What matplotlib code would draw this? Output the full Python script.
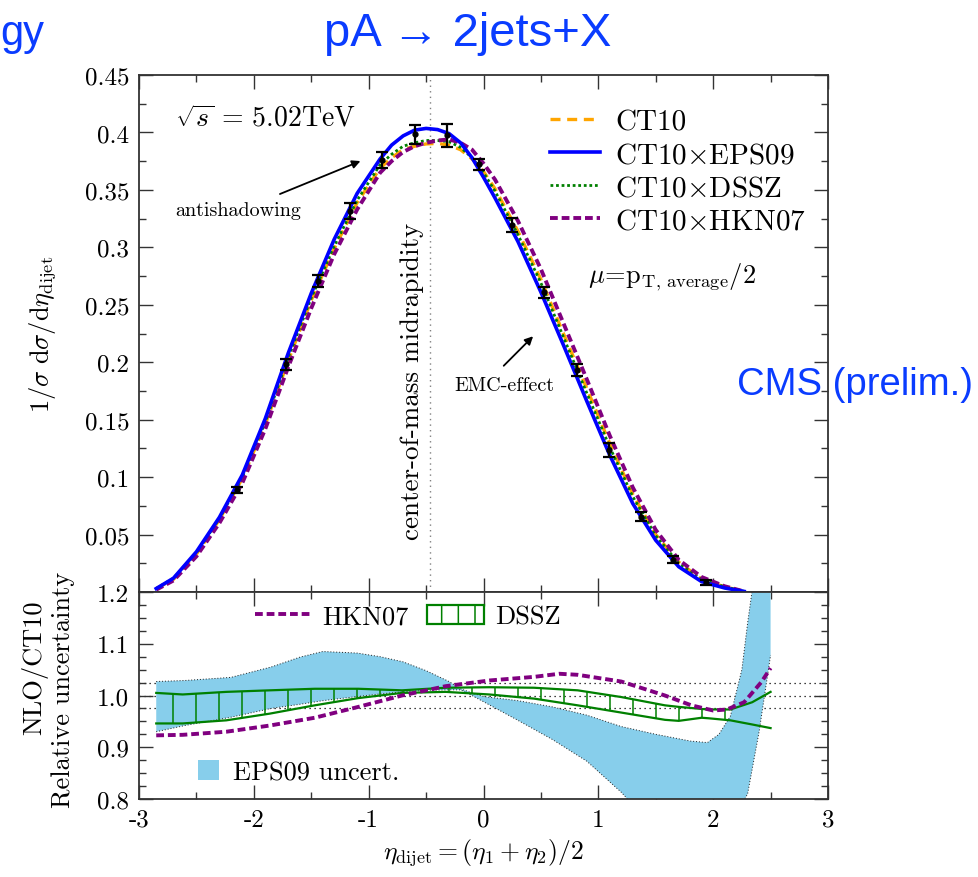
"""Normalised dijet rapidity distribution in pA with nuclear PDF ratios."""

import matplotlib

matplotlib.use("Agg")

import matplotlib.pyplot as plt
import numpy as np
from matplotlib.lines import Line2D
from matplotlib.patches import Patch
from matplotlib.ticker import FuncFormatter, MultipleLocator

# ---- upper panel: 1/sigma dsigma/deta curves ----
eta = [-2.85, -2.7, -2.5, -2.3, -2.1, -1.9, -1.7, -1.5, -1.3, -1.1, -0.9, -0.8, -0.7,
       -0.6, -0.5, -0.4, -0.3, -0.2, -0.1, 0.0, 0.1, 0.3, 0.5, 0.7, 0.9, 1.1, 1.3, 1.5,
       1.7, 1.9, 2.1, 2.27]
ct10 = [0.003, 0.011, 0.033, 0.063, 0.099, 0.146, 0.2015, 0.254, 0.299, 0.339, 0.369,
        0.378, 0.385, 0.388, 0.390, 0.3905, 0.389, 0.385, 0.377, 0.366, 0.351, 0.314,
        0.272, 0.224, 0.177, 0.129, 0.085, 0.050, 0.026, 0.011, 0.0045, 0.0005]
ct10_eps09 = [0.003, 0.012, 0.035, 0.065, 0.102, 0.151, 0.208, 0.260, 0.307, 0.347,
              0.377, 0.389, 0.397, 0.402, 0.4035, 0.4025, 0.399, 0.391, 0.378, 0.361,
              0.343, 0.305, 0.261, 0.214, 0.166, 0.119, 0.077, 0.045, 0.022, 0.009,
              0.0035, 0.0005]
ct10_dssz = [0.003, 0.012, 0.034, 0.064, 0.100, 0.148, 0.204, 0.256, 0.301, 0.341,
             0.372, 0.381, 0.388, 0.391, 0.393, 0.393, 0.392, 0.387, 0.378, 0.365,
             0.349, 0.311, 0.269, 0.221, 0.173, 0.126, 0.083, 0.049, 0.025, 0.011,
             0.0045, 0.0005]
ct10_hkn07 = [0.002, 0.010, 0.031, 0.060, 0.095, 0.142, 0.196, 0.247, 0.294, 0.333,
              0.365, 0.375, 0.383, 0.388, 0.391, 0.393, 0.394, 0.391, 0.385, 0.373,
              0.359, 0.323, 0.281, 0.233, 0.185, 0.136, 0.091, 0.054, 0.028, 0.013,
              0.005, 0.0005]

# CMS preliminary points
cms_eta = [-2.15, -1.72, -1.44, -1.165, -0.88, -0.60, -0.315, -0.04, 0.246, 0.527,
           0.812, 1.097, 1.375, 1.654, 1.939]
cms_val = [0.0888, 0.1982, 0.2707, 0.3316, 0.3760, 0.3983, 0.3977, 0.3722, 0.3194,
           0.2608, 0.1932, 0.1236, 0.0655, 0.0279, 0.0084]
cms_err = [0.003, 0.0047, 0.005, 0.0068, 0.007, 0.0086, 0.010, 0.005, 0.006, 0.005,
           0.005, 0.006, 0.004, 0.003, 0.002]

ETA_CM = -0.465

# ---- lower panel: ratios to CT10 ----
eps_eta = [-2.85, -2.6, -2.2, -1.85, -1.6, -1.4, -1.1, -0.9, -0.7, -0.5, -0.3, -0.2,
           -0.1, 0.0, 0.3, 0.6, 0.9, 1.2, 1.5, 1.8, 1.95, 2.05, 2.15, 2.25, 2.3, 2.35,
           2.4, 2.5]
eps_hi = [1.027, 1.029, 1.035, 1.055, 1.074, 1.085, 1.082, 1.075, 1.065, 1.048, 1.027,
          1.013, 1.005, 0.998, 0.990, 0.978, 0.962, 0.940, 0.925, 0.912, 0.909, 0.925,
          0.960, 1.050, 1.140, 1.220, 1.300, 1.350]
eps_lo = [0.930, 0.942, 0.958, 0.975, 0.983, 0.990, 0.998, 1.003, 1.007, 1.010, 1.011,
          1.011, 1.000, 0.988, 0.952, 0.915, 0.873, 0.813, 0.740, 0.700, 0.690, 0.700,
          0.740, 0.790, 0.810, 0.870, 0.930, 1.078]

dssz_eta = [-2.85, -2.62, -2.24, -1.86, -1.47, -1.09, -0.71, -0.33, 0.05, 0.44, 0.82,
            1.2, 1.58, 1.7, 1.9, 1.96, 2.15, 2.34, 2.5]
dssz_hi = [1.005, 1.002, 1.007, 1.010, 1.013, 1.013, 1.010, 1.015, 1.016, 1.015, 1.010,
           0.997, 0.981, 0.978, 0.974, 0.973, 0.973, 0.987, 1.007]
dssz_lo = [0.946, 0.946, 0.952, 0.965, 0.981, 0.995, 1.005, 1.007, 1.002, 0.994, 0.981,
           0.967, 0.953, 0.951, 0.957, 0.956, 0.952, 0.944, 0.937]

hkn_eta = [-2.85, -2.62, -2.24, -1.86, -1.47, -1.09, -0.71, -0.33, 0.05, 0.44, 0.66,
           0.82, 1.2, 1.58, 1.81, 2.0, 2.12, 2.27, 2.42, 2.5]
hkn_ratio = [0.923, 0.924, 0.930, 0.942, 0.957, 0.978, 1.0, 1.018, 1.029, 1.036, 1.042,
             1.040, 1.027, 1.0, 0.981, 0.971, 0.973, 0.987, 1.026, 1.053]

ref_levels = [1.025, 1.0, 0.975]

plt.rcParams["font.family"] = ["cmr10", "DejaVu Serif"]
plt.rcParams["mathtext.fontset"] = "cm"
plt.rcParams["axes.unicode_minus"] = False
plt.rcParams["hatch.linewidth"] = 1.1

FS = 19
LEG_FS = 21
TICK_FS = 18
SLIDE_BLUE = "#0a3cff"
SANS = ["Liberation Sans", "DejaVu Sans"]

W, H = 979, 878
fig = plt.figure(figsize=(W / 100, H / 100), dpi=100)
left, right = 139 / W, 828 / W
ax1 = fig.add_axes([left, 1 - 593 / H, right - left, 517 / H])
ax2 = fig.add_axes([left, 1 - 800 / H, right - left, 207 / H])


def style_axes(ax):
    for sp in ax.spines.values():
        sp.set_linewidth(1.3)
        sp.set_color("#333333")
    ax.tick_params(which="both", direction="in", top=True, right=True,
                   labelsize=TICK_FS, color="#333333", width=1.0)
    ax.tick_params(which="major", length=10, pad=7)
    ax.tick_params(which="minor", length=5)
    ax.xaxis.set_major_locator(MultipleLocator(1))
    ax.xaxis.set_minor_locator(MultipleLocator(0.5))
    ax.set_xlim(-3, 3)


# ---- upper panel ----
style_axes(ax1)
ax1.set_ylim(0, 0.45)
ax1.yaxis.set_major_locator(MultipleLocator(0.05))
ax1.yaxis.set_minor_locator(MultipleLocator(0.025))
ax1.yaxis.set_major_formatter(FuncFormatter(lambda v, _: "" if abs(v) < 1e-9 else f"{v:g}"))
ax1.tick_params(labelbottom=False)

ax1.axvline(ETA_CM, color="gray", linestyle=(0, (1, 3)), linewidth=1.0, zorder=1)

ax1.plot(eta, ct10, color="#ffa500", linestyle=(0, (3, 2)), linewidth=2.4,
         label="CT10", zorder=3)
ax1.plot(eta, ct10_eps09, color="#0000ff", linestyle="-", linewidth=2.6,
         label=r"CT10$\times$EPS09", zorder=4)
ax1.plot(eta, ct10_dssz, color="#008000", linestyle=(0, (1, 1)), linewidth=2.0,
         label=r"CT10$\times$DSSZ", zorder=3)
ax1.plot(eta, ct10_hkn07, color="#800080", linestyle=(0, (2, 1)), linewidth=2.8,
         label=r"CT10$\times$HKN07", zorder=3)

ax1.errorbar(cms_eta, cms_val, yerr=cms_err, fmt="o", markersize=3.5, color="black",
             elinewidth=1.6, capsize=4.5, capthick=1.6, zorder=6)

ax1.legend(loc="upper left", bbox_to_anchor=(0.597, 0.934), frameon=False,
           fontsize=LEG_FS, handlelength=1.72, handletextpad=0.5, labelspacing=0.22,
           borderpad=0, borderaxespad=0)

ax1.text(-2.69, 0.412, r"$\sqrt{s}\,=\,5.02\mathrm{TeV}$", fontsize=20,
         ha="left", va="center")
ax1.text(0.91, 0.2744, r"$\mu\!=\!\mathrm{p}_{\mathrm{T,\,average}}/2$", fontsize=FS,
         ha="left", va="center")
ax1.text(-0.622, 0.1845, "center-of-mass midrapidity", fontsize=19.5, rotation=90,
         ha="center", va="center")
ax1.annotate("", xy=(-1.049, 0.376), xytext=(-1.795, 0.3455),
             arrowprops=dict(arrowstyle="-|>", color="black", lw=1.3, mutation_scale=12))
ax1.text(-2.132, 0.3325, "antishadowing", fontsize=14.5, ha="center", va="center")
ax1.annotate("", xy=(0.449, 0.2243), xytext=(0.159, 0.1952),
             arrowprops=dict(arrowstyle="-|>", color="black", lw=1.3, mutation_scale=12))
ax1.text(0.183, 0.180, "EMC-effect", fontsize=14.5, ha="center", va="center")

ax1.set_ylabel(r"$1/\sigma\ \mathrm{d}\sigma/\mathrm{d}\eta_{\mathrm{dijet}}$",
               fontsize=FS)
ax1.yaxis.set_label_coords(-0.118, 0.5)

# ---- lower panel ----
style_axes(ax2)
ax2.set_ylim(0.8, 1.2)
ax2.yaxis.set_major_locator(MultipleLocator(0.1))
ax2.yaxis.set_minor_locator(MultipleLocator(0.025))
ax2.yaxis.set_major_formatter(FuncFormatter(lambda v, _: f"{v:.1f}"))
ax2.xaxis.set_major_formatter(FuncFormatter(lambda v, _: f"{v:g}"))

for lvl in ref_levels:
    ax2.axhline(lvl, color="black", linestyle=(0, (1, 3)), linewidth=0.9, zorder=1)

ax2.fill_between(eps_eta, eps_lo, eps_hi, facecolor="#87ceeb", edgecolor="none", zorder=2)
ax2.plot(eps_eta, eps_hi, color="#222222", linestyle=(0, (1, 2)), linewidth=0.7, zorder=2)
ax2.plot(eps_eta, eps_lo, color="#222222", linestyle=(0, (1, 2)), linewidth=0.7, zorder=2)

# DSSZ band: two edges joined by evenly spaced vertical strokes
ax2.plot(dssz_eta, dssz_hi, color="#008000", linewidth=1.6, zorder=4)
ax2.plot(dssz_eta, dssz_lo, color="#008000", linewidth=1.6, zorder=4)
hatch_x = np.arange(-2.7, 2.15, 0.2)
ax2.vlines(hatch_x, np.interp(hatch_x, dssz_eta, dssz_lo),
           np.interp(hatch_x, dssz_eta, dssz_hi), color="#008000", linewidth=1.1, zorder=4)

ax2.plot(hkn_eta, hkn_ratio, color="#800080", linestyle=(0, (2, 1)), linewidth=2.8,
         zorder=5)

top_handles = [
    Line2D([], [], color="#800080", linestyle=(0, (2, 1)), linewidth=2.8, label="HKN07"),
    Patch(facecolor="white", edgecolor="#008000", hatch="|", linewidth=1.6, label="DSSZ"),
]
leg = ax2.legend(handles=top_handles, loc="center left", bbox_to_anchor=(0.168, 0.88),
                 ncol=2, frameon=False, fontsize=FS, handlelength=2.16,
                 handletextpad=0.4, columnspacing=0.7, borderpad=0, borderaxespad=0)
ax2.add_artist(leg)
ax2.legend(handles=[Patch(facecolor="#87ceeb", edgecolor="none", label="EPS09 uncert.")],
           loc="center left", bbox_to_anchor=(0.086, 0.13), frameon=False, fontsize=FS,
           handlelength=0.8, handleheight=0.8, handletextpad=0.5, borderpad=0,
           borderaxespad=0)

ax2.set_xlabel(r"$\eta_{\mathrm{dijet}} = (\eta_1 + \eta_2)/2$", fontsize=18.5)
fig.text(35 / W, 1 - 668 / H, "NLO/CT10", fontsize=FS, rotation=90,
         ha="center", va="center")
fig.text(63 / W, 1 - 690 / H, "Relative uncertainty", fontsize=FS, rotation=90,
         ha="center", va="center")

# ---- slide overlay text ----
fig.text(0.0, 1 - 45 / H, "gy", fontsize=30, color=SLIDE_BLUE, family=SANS,
         ha="left", va="baseline")
fig.text(468 / W, 1 - 46 / H, "pA \u2192 2jets+X", fontsize=34,
         color=SLIDE_BLUE, family=SANS, ha="center", va="baseline")
fig.text(737 / W, 1 - 395 / H, "CMS (prelim.)", fontsize=27.5, color=SLIDE_BLUE,
         family=SANS, ha="left", va="baseline")

fig.savefig("out.png", dpi=100)
